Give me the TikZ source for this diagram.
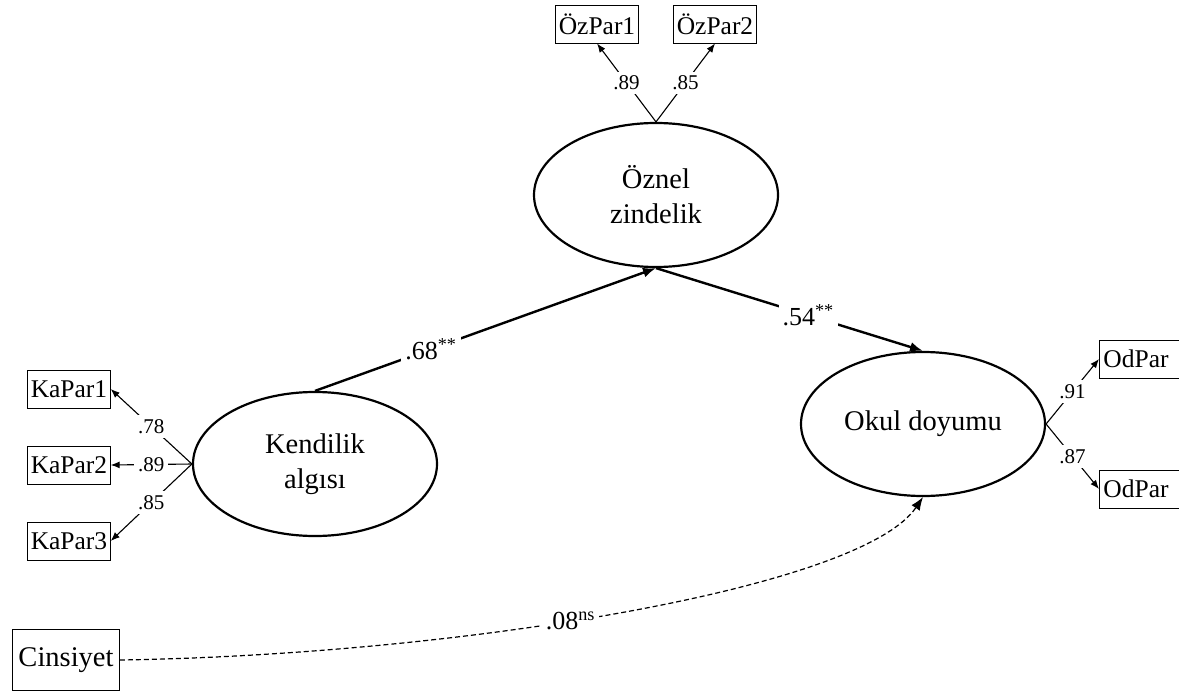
\documentclass[tikz,border=0pt]{standalone}
\usepackage{fontspec}
\setmainfont{Liberation Serif}
\usetikzlibrary{shapes.geometric,arrows.meta}
\begin{document}
\begin{tikzpicture}[x=1pt,y=-1pt,
 lat/.style={ellipse,draw,line width=2.2pt,minimum width=244pt,minimum height=144pt,inner sep=0pt,align=center,font=\fontsize{28.5}{35}\selectfont},
 obs/.style={rectangle,draw,line width=0.9pt,minimum height=38pt,inner sep=3pt,font=\fontsize{25.5}{28}\selectfont},
 load/.style={line width=1.1pt,-{Latex[length=9pt,width=7pt]}},
 strpath/.style={line width=2.4pt,-{Latex[length=13pt,width=10pt]}},
 coef/.style={fill=white,inner sep=4pt,font=\fontsize{21}{24}\selectfont},
 bcoef/.style={fill=white,inner sep=4pt,font=\fontsize{26}{30}\selectfont}]
\useasboundingbox (0,0) rectangle (1179,693);
\node[lat] (ozn) at (656,195) {Öznel\\zindelik};
\node[lat] (kend) at (315,464) {Kendilik\\algısı};
\node[lat] (okul) at (923,424) {Okul doyumu};
\node[obs] (op1) at (597,24) {ÖzPar1};
\node[obs] (op2) at (715,24) {ÖzPar2};
\node[obs] (k1) at (69,389) {KaPar1};
\node[obs] (k2) at (69,465) {KaPar2};
\node[obs] (k3) at (69,541) {KaPar3};
\node[obs, anchor=west, text width=75pt, align=left, inner sep=4pt] (od1) at (1099,359) {OdPar};
\node[obs, anchor=west, text width=75pt, align=left, inner sep=4pt] (od2) at (1099,489) {OdPar};
\node[obs, minimum height=61pt, inner sep=6pt, font=\fontsize{28.5}{32}\selectfont] (cin) at (66,660) {Cinsiyet};
\draw[load] (ozn.north) -- node[coef]{.89} (op1.south);
\draw[load] (ozn.north) -- node[coef]{.85} (op2.south);
\draw[load] (kend.west) -- node[coef]{.78} (k1.east);
\draw[load] (kend.west) -- node[coef]{.89} (k2.east);
\draw[load] (kend.west) -- node[coef]{.85} (k3.east);
\draw[load] (okul.east) -- node[coef]{.91} (od1.west);
\draw[load] (okul.east) -- node[coef]{.87} (od2.west);
\draw[strpath] (kend.north) -- node[bcoef,pos=0.34]{.68\textsuperscript{**}} (ozn.south);
\draw[strpath] (ozn.south) -- node[bcoef,pos=0.57]{.54\textsuperscript{**}} (okul.north);
\draw[line width=1.2pt,dash pattern=on 5pt off 3pt,-{Latex[length=13pt,width=10pt]}] (cin.east) .. controls (450,655) and (860,590) .. node[bcoef,pos=0.445]{.08\textsuperscript{ns}} (okul.south);
\end{tikzpicture}
\end{document}
